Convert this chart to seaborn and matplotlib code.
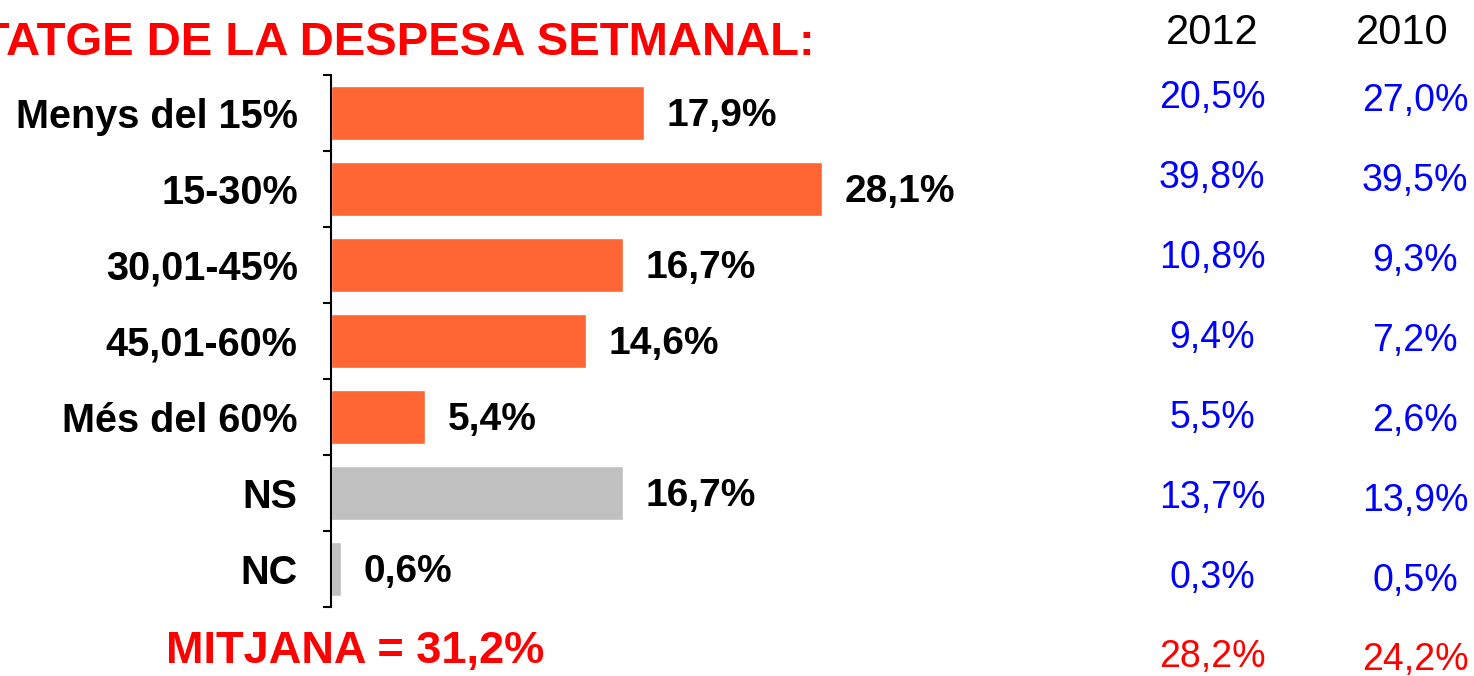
import matplotlib
matplotlib.use("Agg")
import matplotlib.pyplot as plt
import seaborn as sns
import pandas as pd
import numpy as np
from matplotlib.ticker import FixedLocator

sns.set_style("white")
plt.rcParams['font.family'] = ['Liberation Sans', 'DejaVu Sans']

categories = ["Menys del 15%", "15-30%", "30,01-45%", "45,01-60%", "Més del 60%", "NS", "NC"]
values_2014 = [17.9, 28.1, 16.7, 14.6, 5.4, 16.7, 0.6]
bar_colors = ["#FF6633", "#FF6633", "#FF6633", "#FF6633", "#FF6633", "#C0C0C0", "#C0C0C0"]
labels_2014 = ["17,9%", "28,1%", "16,7%", "14,6%", "5,4%", "16,7%", "0,6%"]
col_years = ["2012", "2010"]
col_2012 = ["20,5%", "39,8%", "10,8%", "9,4%", "5,5%", "13,7%", "0,3%"]
col_2010 = ["27,0%", "39,5%", "9,3%", "7,2%", "2,6%", "13,9%", "0,5%"]
mean_2014 = "MITJANA = 31,2%"
mean_2012 = "28,2%"
mean_2010 = "24,2%"
title = "PERCENTATGE DE LA DESPESA SETMANAL:"

W, H = 1474, 676
fig = plt.figure(figsize=(W / 100, H / 100), dpi=100)
ax_left, ax_right, ax_top, ax_bot = 331, 1100, 75, 607
ax = fig.add_axes([ax_left / W, 1 - ax_bot / H, (ax_right - ax_left) / W, (ax_bot - ax_top) / H])

df = pd.DataFrame({"cat": categories, "val": values_2014})
sns.barplot(data=df, x="val", y="cat", hue="cat", palette=bar_colors, legend=False,
            orient="h", width=0.72, ax=ax, saturation=1)

ax.set_xlim(0, (ax_right - ax_left) / 17.49)
ax.set_ylim(len(categories) - 0.5, -0.5)
ax.set_xlabel("")
ax.set_ylabel("")
ax.set_xticks([])
for s in ["top", "right", "bottom"]:
    ax.spines[s].set_visible(False)
ax.spines["left"].set_linewidth(1.5)
ax.spines["left"].set_color("black")

ax.yaxis.set_minor_locator(FixedLocator(np.arange(-0.5, len(categories), 1.0)))
ax.tick_params(axis="y", which="minor", length=6, width=1.5, color="black", direction="out", left=True)
ax.tick_params(axis="y", which="major", length=0, pad=24, labelcolor="black")
for lab in ax.get_yticklabels():
    lab.set_fontsize(28.5)
    lab.set_fontweight("bold")
    lab.set_color("black")

for i, (v, t) in enumerate(zip(values_2014, labels_2014)):
    ax.annotate(t, xy=(v, i), xytext=(16, -2), textcoords="offset points",
                ha="left", va="center", fontsize=28, fontweight="bold", color="black")

# Title (clipped at left edge as in the original)
fig.text(815 / W, 1 - 43 / H, title, ha="right", va="center", fontsize=34,
         fontweight="bold", color="#FF0000")

# Mean
fig.text(355 / W, 1 - 652 / H, mean_2014, ha="center", va="center", fontsize=32.5,
         fontweight="bold", color="#FF0000")

# Right-hand comparison columns
col_x = [1212, 1415]
head_x = [1212, 1402]
for hx, yr in zip(head_x, col_years):
    fig.text(hx / W, 1 - 33 / H, yr, ha="center", va="center", fontsize=30, color="black")

for j, (col, start) in enumerate(zip([col_2012, col_2010], [98, 101])):
    for i, t in enumerate(col):
        y = start + 80 * i
        fig.text(col_x[j] / W, 1 - y / H, t, ha="center", va="center", fontsize=27, color="#0000FF")

fig.text(col_x[0] / W, 1 - 657 / H, mean_2012, ha="center", va="center", fontsize=27, color="#FF0000")
fig.text(col_x[1] / W, 1 - 660 / H, mean_2010, ha="center", va="center", fontsize=27, color="#FF0000")

fig.savefig("out.png", dpi=100)
